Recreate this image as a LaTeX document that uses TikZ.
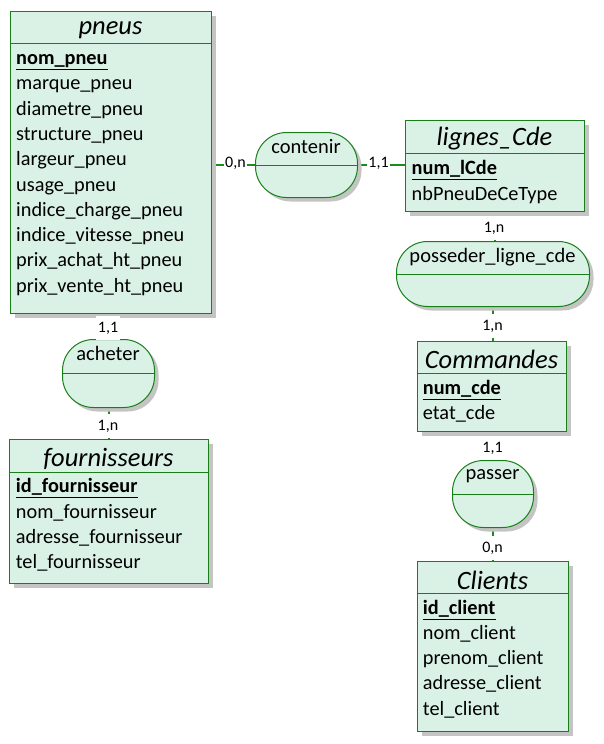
\documentclass[tikz,border=0pt]{standalone}
\usepackage{fontspec}
\setmainfont{Carlito}
\usetikzlibrary{shadows,backgrounds,calc}
\definecolor{mcdfill}{HTML}{DAF2E6}
\definecolor{mcdline}{HTML}{198019}
\definecolor{mcdshadow}{HTML}{C4C4C4}
\definecolor{linkgreen}{HTML}{1E8A1E}
\tikzset{
 mcdshad/.style={drop shadow={shadow xshift=4pt, shadow yshift=-4pt, fill=mcdshadow, opacity=1}},
 entity/.style={draw=mcdline, fill=mcdfill, line width=1pt, rectangle, inner sep=0pt, anchor=north west, mcdshad},
 relation/.style={draw=mcdline, fill=mcdfill, line width=1pt, rectangle, rounded corners=31pt, inner sep=0pt, anchor=north west, mcdshad},
 mcdsep/.style={draw=mcdline, line width=1pt},
 enttitle/.style={font=\fontsize{26.5}{30}\selectfont\itshape, inner sep=0pt},
 reltitle/.style={font=\fontsize{20.5}{24}\selectfont, inner sep=0pt},
 attrib/.style={font=\fontsize{20.3}{24}\selectfont, inner sep=0pt, anchor=base west},
 pkey/.style={attrib, font=\fontsize{20.3}{24}\selectfont\bfseries},
 pkline/.style={draw=black, line width=1pt},
 mcdlink/.style={draw=linkgreen, line width=2pt},
 cardlbl/.style={fill=white, font=\fontsize{16}{18}\selectfont, text height=11.5pt, text depth=3pt, inner xsep=1.5pt, inner ysep=4.5pt},
}
\begin{document}
\begin{tikzpicture}[x=1pt,y=-1pt]
\useasboundingbox (0,0) rectangle (603,744);
% ---------- entities ----------
\node[entity, minimum width=201pt, minimum height=302pt] (pneus) at (10,11) {};
\draw[mcdsep] ([yshift=-32pt]pneus.north west) -- ([yshift=-32pt]pneus.north east);
\node[enttitle] (tpneus) at (110.5,30) {pneus};
\node[pkey] (kpneus) at (16,64.5) {nom\_pneu};
\draw[pkline] ([yshift=-5pt]kpneus.base west) -- ([yshift=-5pt]kpneus.base east);
\node[attrib] (a1) at (16,89.8) {marque\_pneu};
\node[attrib] (a2) at (16,115.1) {diametre\_pneu};
\node[attrib] (a3) at (16,140.4) {structure\_pneu};
\node[attrib] (a4) at (16,165.7) {largeur\_pneu};
\node[attrib] (a5) at (16,191) {usage\_pneu};
\node[attrib] (a6) at (16,216.3) {indice\_charge\_pneu};
\node[attrib] (a7) at (16,241.6) {indice\_vitesse\_pneu};
\node[attrib] (a8) at (16,266.9) {prix\_achat\_ht\_pneu};
\node[attrib] (a9) at (16,292.2) {prix\_vente\_ht\_pneu};

\node[entity, minimum width=179pt, minimum height=91pt] (lignes) at (405,120) {};
\draw[mcdsep] ([yshift=-33pt]lignes.north west) -- ([yshift=-33pt]lignes.north east);
\node[enttitle] (tlignes) at (494.5,139) {lignes\_Cde};
\node[pkey] (klignes) at (411.5,174.5) {num\_lCde};
\draw[pkline] ([yshift=-5pt]klignes.base west) -- ([yshift=-5pt]klignes.base east);
\node[attrib] (b1) at (411.5,200) {nbPneuDeCeType};

\node[entity, minimum width=149pt, minimum height=90pt] (cmd) at (417,341) {};
\draw[mcdsep] ([yshift=-32pt]cmd.north west) -- ([yshift=-32pt]cmd.north east);
\node[enttitle] (tcmd) at (491.5,359) {Commandes};
\node[pkey] (kcmd) at (422.7,394) {num\_cde};
\draw[pkline] ([yshift=-5pt]kcmd.base west) -- ([yshift=-5pt]kcmd.base east);
\node[attrib] (c1) at (422.7,419.5) {etat\_cde};

\node[entity, minimum width=151pt, minimum height=170pt] (clients) at (417,561) {};
\draw[mcdsep] ([yshift=-32pt]clients.north west) -- ([yshift=-32pt]clients.north east);
\node[enttitle] (tclients) at (492.5,580) {Clients};
\node[pkey] (kclients) at (422.7,614) {id\_client};
\draw[pkline] ([yshift=-5pt]kclients.base west) -- ([yshift=-5pt]kclients.base east);
\node[attrib] (d1) at (422.7,639.3) {nom\_client};
\node[attrib] (d2) at (422.7,664.6) {prenom\_client};
\node[attrib] (d3) at (422.7,689.9) {adresse\_client};
\node[attrib] (d4) at (422.7,715.2) {tel\_client};

\node[entity, minimum width=199pt, minimum height=144pt] (fourn) at (9,439) {};
\draw[mcdsep] ([yshift=-33pt]fourn.north west) -- ([yshift=-33pt]fourn.north east);
\node[enttitle] (tfourn) at (108.5,459) {fournisseurs};
\node[pkey] (kfourn) at (15.7,492.5) {id\_fournisseur};
\draw[pkline] ([yshift=-5pt]kfourn.base west) -- ([yshift=-5pt]kfourn.base east);
\node[attrib] (e1) at (15.7,518) {nom\_fournisseur};
\node[attrib] (e2) at (15.7,543.5) {adresse\_fournisseur};
\node[attrib] (e3) at (15.7,568.8) {tel\_fournisseur};

% ---------- relations ----------
\node[relation, minimum width=102pt, minimum height=65pt] (contenir) at (255,132) {};
\draw[mcdsep] (contenir.west) -- (contenir.east);
\node[reltitle] (tcontenir) at (306,147) {contenir};

\node[relation, minimum width=193pt, minimum height=65pt] (posseder) at (396,241) {};
\draw[mcdsep] (posseder.west) -- (posseder.east);
\node[reltitle] (tposseder) at (492.5,257) {posseder\_ligne\_cde};

\node[relation, minimum width=81pt, minimum height=67pt] (passer) at (452,460) {};
\draw[mcdsep] (passer.west) -- (passer.east);
\node[reltitle] (tpasser) at (492.5,476) {passer};

\node[relation, minimum width=92pt, minimum height=68pt] (acheter) at (62,339) {};
\draw[mcdsep] (acheter.west) -- (acheter.east);
\node[reltitle] (tacheter) at (108,353) {acheter};

% ---------- connectors ----------
\begin{scope}[on background layer]
\draw[mcdlink] (pneus.east |- contenir.west) -- (contenir.west);
\draw[mcdlink] (contenir.east) -- (lignes.west |- contenir.east);
\draw[mcdlink] (lignes.south) -- (lignes.south |- posseder.north);
\draw[mcdlink] (posseder.south) -- (posseder.south |- cmd.north);
\draw[mcdlink] (cmd.south) -- (cmd.south |- passer.north);
\draw[mcdlink] (passer.south) -- (passer.south |- clients.north);
\draw[mcdlink] (acheter.north |- pneus.south) -- (acheter.north);
\draw[mcdlink] (acheter.south) -- (acheter.south |- fourn.north);
\end{scope}
\node[cardlbl] (c1a) at (235.5,163.5) {0,n};
\node[cardlbl] (c1b) at (378.5,163.5) {1,1};
\node[cardlbl] (c2a) at (494,228) {1,n};
\node[cardlbl] (c2b) at (492.5,326) {1,n};
\node[cardlbl] (c3a) at (492.5,448) {1,1};
\node[cardlbl] (c3b) at (492.5,548) {0,n};
\node[cardlbl] (c4a) at (108,328) {1,1};
\node[cardlbl] (c4b) at (108,426) {1,n};
\end{tikzpicture}
\end{document}
